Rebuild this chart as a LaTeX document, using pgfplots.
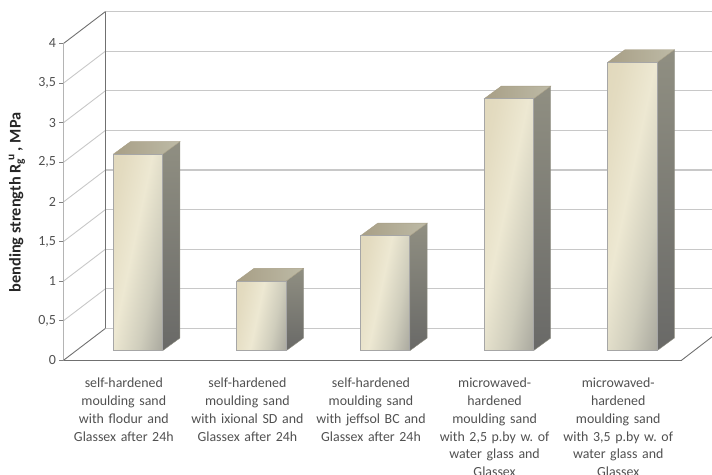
\documentclass[border=0pt]{standalone}
\usepackage{fontspec}
\setmainfont{Carlito}
\usepackage{pgfplots}
\pgfplotsset{compat=1.18}
\definecolor{txt}{HTML}{505050}
\definecolor{wall}{HTML}{C8C8C8}
\definecolor{edge}{HTML}{707070}
\definecolor{fa}{HTML}{DCD2B2}
\definecolor{fb}{HTML}{E3DBC0}
\definecolor{fc}{HTML}{EDE8D2}
\definecolor{fd}{HTML}{CFCDBC}
\definecolor{fe}{HTML}{A9A89E}
\pgfdeclarehorizontalshading{barfront}{100bp}{color(0bp)=(fa); color(28bp)=(fb); color(46bp)=(fc); color(64bp)=(fd); color(80bp)=(fe); color(100bp)=(fe)}
\definecolor{topl}{HTML}{A89F86}
\definecolor{topr}{HTML}{BDBAA6}
\definecolor{sdt}{HTML}{908F82}
\definecolor{sdb}{HTML}{696967}
\pgfplotsset{
  frame3d/.style={scale only axis,width=648.5pt,height=350.06pt,xmin=0,xmax=5.2468,ymin=0,ymax=4.42},
  fr/.style={ybar,bar width=49.4pt,bar shift=0pt,draw=black!35,line width=0.8pt,shading=barfront,shading angle=-12},
  tp/.style={draw=topl,line width=0.4pt,left color=topl,right color=topr},
  sd/.style={draw=sdt,line width=0.4pt,top color=sdt,bottom color=sdb}
}
\frenchspacing
\begin{document}
\frenchspacing
\begin{tikzpicture}
\path[use as bounding box,clip] (-63.5pt,-113.7pt) rectangle (648.5pt,360.3pt);
\begin{axis}[frame3d,
  axis x line*=bottom,axis y line*=left,
  axis line style={draw=none},
  tick style={draw=black!50,line width=0.7pt},
  tick align=outside,
  ytick={0,0.5,1,1.5,2,2.5,3,3.5,4},
  yticklabels={0,{0,5},1,{1,5},2,{2,5},3,{3,5},4},
  major tick length=4pt,
  yticklabel style={font=\fontsize{14}{16}\selectfont,text=txt},
  xtick={0.5,1.5,2.5,3.5,4.5},
  x tick style={draw=none},
  xticklabels={
    {self-hardened\\moulding sand\\with flodur and\\Glassex after 24h},
    {self-hardened\\moulding sand\\with ixional SD and\\Glassex after 24h},
    {self-hardened\\moulding sand\\with jeffsol BC and\\Glassex after 24h},
    {microwaved-\\hardened\\moulding sand\\with 2,5 p.by w.\ of\\water glass and\\Glassex},
    {microwaved-\\hardened\\moulding sand\\with 3,5 p.by w.\ of\\water glass and\\Glassex}},
  xticklabel style={font=\fontsize{13.9}{17.7}\selectfont,text=txt,align=center,text width=125pt,anchor=north,yshift=-10.5pt,xshift=-1.5pt},
  extra x ticks={0,1,2,3,4,5},
  extra x tick labels={},
  extra x tick style={tick style={draw=black!50,line width=0.7pt},major tick length=4pt},
  ylabel={\textbf{bending strength R\rlap{\textsubscript{g}}\hspace{4pt}\textsuperscript{u}\,, MPa}},
  ylabel style={font=\fontsize{16.3}{18}\selectfont,text=black!85,at={(rel axis cs:-0.0717,0.451)},anchor=center,rotate=0},
]
% side wall grid lines
\addplot[wall,line width=0.9pt] coordinates {(0,0.5)(0.34,0.904)};
\addplot[wall,line width=0.9pt] coordinates {(0,1)(0.34,1.404)};
\addplot[wall,line width=0.9pt] coordinates {(0,1.5)(0.34,1.904)};
\addplot[wall,line width=0.9pt] coordinates {(0,2)(0.34,2.404)};
\addplot[wall,line width=0.9pt] coordinates {(0,2.5)(0.34,2.904)};
\addplot[wall,line width=0.9pt] coordinates {(0,3)(0.34,3.404)};
\addplot[wall,line width=0.9pt] coordinates {(0,3.5)(0.34,3.904)};
% back wall grid lines
\addplot[wall,line width=1.2pt] coordinates {(0.34,0.404)(5.3,0.404)};
\addplot[wall,line width=1.2pt] coordinates {(0.34,0.904)(5.3,0.904)};
\addplot[wall,line width=1.2pt] coordinates {(0.34,1.404)(5.3,1.404)};
\addplot[wall,line width=1.2pt] coordinates {(0.34,1.904)(5.3,1.904)};
\addplot[wall,line width=1.2pt] coordinates {(0.34,2.404)(5.3,2.404)};
\addplot[wall,line width=1.2pt] coordinates {(0.34,2.904)(5.3,2.904)};
\addplot[wall,line width=1.2pt] coordinates {(0.34,3.404)(5.3,3.404)};
\addplot[wall,line width=1.2pt] coordinates {(0.34,3.904)(5.3,3.904)};
\addplot[wall,line width=1.2pt] coordinates {(0.34,4.404)(5.3,4.404)};
% frame
\addplot[black!45,line width=0.8pt] coordinates {(0,0)(0,4)};
\addplot[edge,line width=0.9pt] coordinates {(0,0)(5,0)};
\addplot[edge,line width=0.9pt] coordinates {(0,4)(0.34,4.404)};
\addplot[edge,line width=0.9pt] coordinates {(0,0)(0.34,0.404)};
\addplot[edge,line width=0.9pt] coordinates {(0.34,0.404)(0.34,4.404)};
\addplot[edge,line width=0.9pt] coordinates {(5,0)(5.3,0.36)};
\end{axis}
\begin{axis}[frame3d,at={(12.6pt,9.6pt)},hide axis,clip=false]
\addplot[sd] coordinates {(0.7,0)(0.84,0.16)(0.84,2.64)(0.7,2.48)(0.7,0)};
\addplot[tp] coordinates {(0.3,2.48)(0.7,2.48)(0.84,2.64)(0.44,2.64)(0.3,2.48)};
\addplot[fr] coordinates {(0.5,2.48)};
\addplot[sd] coordinates {(1.7,0)(1.84,0.16)(1.84,1.04)(1.7,0.88)(1.7,0)};
\addplot[tp] coordinates {(1.3,0.88)(1.7,0.88)(1.84,1.04)(1.44,1.04)(1.3,0.88)};
\addplot[fr] coordinates {(1.5,0.88)};
\addplot[sd] coordinates {(2.7,0)(2.84,0.16)(2.84,1.61)(2.7,1.45)(2.7,0)};
\addplot[tp] coordinates {(2.3,1.45)(2.7,1.45)(2.84,1.61)(2.44,1.61)(2.3,1.45)};
\addplot[fr] coordinates {(2.5,1.45)};
\addplot[sd] coordinates {(3.7,0)(3.84,0.16)(3.84,3.34)(3.7,3.18)(3.7,0)};
\addplot[tp] coordinates {(3.3,3.18)(3.7,3.18)(3.84,3.34)(3.44,3.34)(3.3,3.18)};
\addplot[fr] coordinates {(3.5,3.18)};
\addplot[sd] coordinates {(4.7,0)(4.84,0.16)(4.84,3.8)(4.7,3.64)(4.7,0)};
\addplot[tp] coordinates {(4.3,3.64)(4.7,3.64)(4.84,3.8)(4.44,3.8)(4.3,3.64)};
\addplot[fr] coordinates {(4.5,3.64)};
\end{axis}
\end{tikzpicture}
\end{document}
